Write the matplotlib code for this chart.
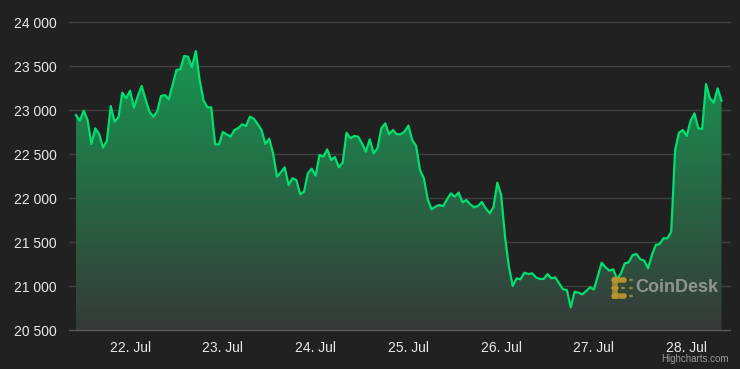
import numpy as np
import pandas as pd
import matplotlib
matplotlib.use("Agg")
import matplotlib.pyplot as plt
import matplotlib.dates as mdates
from matplotlib.ticker import FixedLocator, FuncFormatter

# ---- data (hourly BTC price) ----
start_time = "2022-07-21 10:00"
prices = [
    22943, 22878, 22992, 22886, 22614, 22792, 22727, 22572, 22651, 23045,
    22867, 22917, 23197, 23133, 23220, 23026, 23159, 23273, 23122, 22981,
    22924, 22981, 23159, 23170, 23122, 23284, 23455, 23462, 23614, 23606,
    23485, 23670, 23340, 23110, 23030, 23030, 22610, 22610, 22750, 22724,
    22697, 22773, 22795, 22837, 22818, 22924, 22901, 22841, 22773, 22614,
    22674, 22508, 22242, 22292, 22349, 22148, 22224, 22205, 22042, 22072,
    22281, 22333, 22254, 22489, 22469, 22553, 22432, 22465, 22349, 22402,
    22742, 22678, 22705, 22697, 22621, 22527, 22667, 22508, 22565, 22792,
    22849, 22724, 22773, 22724, 22724, 22754, 22822, 22659, 22591, 22318,
    22224, 21985, 21871, 21902, 21920, 21909, 21985, 22053, 22015, 22061,
    21951, 21977, 21928, 21894, 21909, 21955, 21883, 21826, 21894, 22174,
    22034, 21560, 21219, 21000, 21087, 21076, 21151, 21136, 21144, 21098,
    21080, 21080, 21136, 21087, 21098, 21030, 20962, 20955, 20758, 20935,
    20924, 20905, 20943, 20985, 20960, 21114, 21265, 21212, 21174, 21190,
    21076, 21144, 21258, 21269, 21352, 21364, 21303, 21288, 21201, 21352,
    21466, 21477, 21542, 21542, 21617, 22545, 22742, 22773, 22705, 22878,
    22962, 22792, 22784, 23295, 23133, 23083, 23246, 23106,
]
y_ticks = [20500, 21000, 21500, 22000, 22500, 23000, 23500, 24000]
x_tick_days = ["2022-07-22", "2022-07-23", "2022-07-24", "2022-07-25",
               "2022-07-26", "2022-07-27", "2022-07-28"]

times = pd.date_range(start_time, periods=len(prices), freq="h")
tnum = mdates.date2num(times.to_pydatetime())
vals = np.array(prices, dtype=float)

BG = "#212121"
W, H = 740, 369
fig = plt.figure(figsize=(W / 100, H / 100), dpi=100, facecolor=BG)
ax = fig.add_axes([69 / W, (H - 330) / H, (730 - 69) / W, (330 - 22) / H])
ax.set_facecolor(BG)

ymin, ymax = y_ticks[0], y_ticks[-1]
hour = 1 / 24
x0, x1 = tnum[0] - 1.8 * hour, tnum[-1] + 2.2 * hour
ax.set_xlim(x0, x1)
ax.set_ylim(ymin, ymax)

# grid lines
for v in y_ticks[1:]:
    ax.axhline(v, color="#404040", lw=1.0, zorder=0.5, clip_on=False)
ax.axhline(ymin, color="#5a5a5a", lw=1.0, zorder=3, clip_on=False)

# gradient fill
poly = ax.fill_between(tnum, vals, ymin, color="none", lw=0)
top = np.array([20, 160, 84]) / 255
bot = np.array([54, 58, 56]) / 255
f = np.linspace(0, 1, 256)[:, None]
grad = top[None, :] * f + bot[None, :] * (1 - f)
img = ax.imshow(grad[:, None, :], extent=[tnum[0], tnum[-1], ymin, ymax],
                origin="lower", aspect="auto", zorder=1, interpolation="bilinear")
paths = poly.get_paths()
img.set_clip_path(paths[0], transform=ax.transData)

ax.plot(tnum, vals, color="#00e070", lw=1.6, zorder=4, solid_joinstyle="round")

for s in ax.spines.values():
    s.set_visible(False)

ax.yaxis.set_major_locator(FixedLocator(y_ticks))
ax.yaxis.set_major_formatter(FuncFormatter(lambda v, p: f"{int(v):,}".replace(",", " ")))
xt = mdates.date2num(pd.to_datetime(x_tick_days).to_pydatetime())
ax.xaxis.set_major_locator(FixedLocator(xt))
ax.xaxis.set_major_formatter(FuncFormatter(lambda v, p: mdates.num2date(v).strftime("%d. %b").lstrip("0")))
ax.tick_params(axis="y", length=0, pad=9, labelsize=10, labelcolor="#e8e8e8")
ax.tick_params(axis="x", length=0, pad=8, labelsize=10, labelcolor="#e8e8e8")
for lab in ax.get_xticklabels() + ax.get_yticklabels():
    lab.set_family("Liberation Sans")

# watermark
logo_c = "#b8952e"
lx, ly = 615 / W, (H - 288) / H
dx, dy = 8 / W, 8 / H
pts_solid = [(0, 1), (1, 1), (0, 0), (0, -1), (1, -1)]
pts_faint = [(2, 1), (2, -1), (1, 0), (2, 0)]
for (i, j) in pts_solid:
    fig.add_artist(plt.Circle((lx + i * dx, ly + j * dy), 3.2 / W, transform=fig.transFigure,
                              color=logo_c, alpha=0.85, zorder=5))
fig.add_artist(plt.Line2D([lx, lx + dx], [ly + dy, ly + dy], transform=fig.transFigure,
                          color=logo_c, lw=4, alpha=0.85, zorder=5))
fig.add_artist(plt.Line2D([lx, lx + dx], [ly - dy, ly - dy], transform=fig.transFigure,
                          color=logo_c, lw=4, alpha=0.85, zorder=5))
fig.add_artist(plt.Line2D([lx, lx], [ly - dy, ly + dy], transform=fig.transFigure,
                          color=logo_c, lw=4, alpha=0.85, zorder=5))
for (i, j) in pts_faint:
    fig.add_artist(plt.Circle((lx + i * dx, ly + j * dy), 1.3 / W, transform=fig.transFigure,
                              color=logo_c, alpha=0.6, zorder=5))
fig.text(635 / W, (H - 288) / H, "CoinDesk", color="#b0b0b0", alpha=0.75, fontsize=13,
         fontweight="bold", family="Liberation Sans", va="center", ha="left", zorder=5)
fig.text(729 / W, (H - 359) / H, "Highcharts.com", color="#9a9a9a", fontsize=7,
         family="Liberation Sans", va="center", ha="right")

fig.savefig("out.png", dpi=100, facecolor=BG)
